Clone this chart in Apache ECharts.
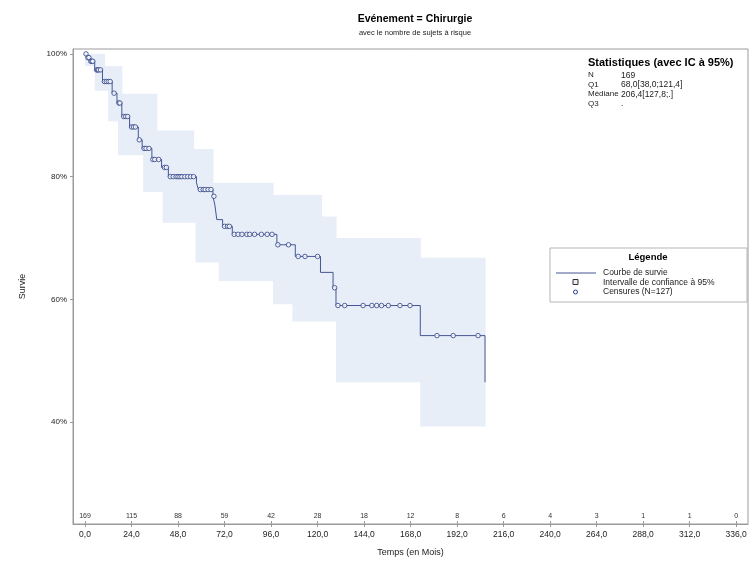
<!DOCTYPE html>
<html><head><meta charset="utf-8">
<script src="https://cdn.jsdelivr.net/npm/echarts@6/dist/echarts.min.js"></script>
<style>html,body{margin:0;padding:0;background:#fff}#c{width:752px;height:562px}</style>
</head><body><div id="c"></div>
<script>
// ---- data ----
const survTimes  = [0, 1, 2.5, 5, 9, 14, 16.5, 19, 23, 27.5, 29.5, 34.5, 39.5, 43, 57.5, 58.5, 66, 67, 68, 71, 76, 99, 108.5, 121.5, 128, 129.5, 173, 206.4];
const survValues = [100, 99.4, 98.8, 97.4, 95.5, 93.6, 92.0, 89.8, 88.1, 86.0, 84.6, 82.8, 81.5, 80.0, 79.0, 77.9, 76.8, 75.4, 73.0, 71.9, 70.6, 68.9, 67.0, 64.4, 61.9, 59.0, 54.1, 46.5];

const bandTimes = [0, 5, 10, 12, 17, 19, 30, 37, 40, 56, 57, 66, 69, 97, 107, 122, 129.5, 173, 206.4];
const bandLower = [98, 94, 94, 89, 83.5, 83.5, 77.5, 77.5, 72.5, 72.5, 66, 66, 63, 59.2, 56.4, 56.4, 46.5, 39.3, 39.3];
const bandUpper = [100, 100, 98, 98, 98, 93.5, 93.5, 87.5, 87.5, 84.5, 84.5, 79, 79, 77, 77, 73.5, 70, 66.8, 66.8];

const censorTimes = [0.5, 1.5, 2, 3, 3.5, 4, 6, 6.5, 7, 8, 10, 11, 12, 13, 15, 17.5, 18, 20, 21, 22, 24, 25, 26, 28, 30.5, 31.5, 33, 35, 36, 38, 41, 42,
  44, 45.5, 47, 48, 49, 50, 51.5, 53, 54.5, 56,
  59.5, 61, 62, 63.5, 65, 66.5, 72, 73.5, 74.5,
  77, 79, 81, 83.5, 85, 87.5, 91, 94, 96.5,
  99.5, 105, 110, 113.5, 120, 128.8,
  130.5, 134, 143.5, 148, 150.5, 153, 156.5, 162.5, 167.7,
  181.6, 190, 202.8];

const xTicks = [0, 24, 48, 72, 96, 120, 144, 168, 192, 216, 240, 264, 288, 312, 336];
const atRisk = ["169", "115", "88", "59", "42", "28", "18", "12", "8", "6", "4", "3", "1", "1", "0"];
const yTicks = [40, 60, 80, 100];

const statLabels = ["N", "Q1", "Médiane", "Q3"];
const statValues = ["169", "68,0[38,0;121,4]", "206,4[127,8;.]", "."];

// ---- helpers ----
function survAt(t) {
  let v = survValues[0];
  for (let i = 0; i < survTimes.length; i++) if (survTimes[i] <= t) v = survValues[i];
  return v;
}
const FONT = '"Liberation Sans", Arial, sans-serif';
const LINE = '#445694';
const BAND = '#e7eef8';
const AX = '#9a9a9a';

const bandData = [];
for (let i = 0; i < bandTimes.length - 1; i++) bandData.push([bandTimes[i], bandTimes[i + 1], bandLower[i], bandUpper[i]]);

const chart = echarts.init(document.getElementById('c'));

function txt(x, y, s, size, bold) {
  return { type: 'text', x: x, y: y, z: 100,
    style: { text: s, fontSize: size, fontWeight: bold ? 'bold' : 'normal', fontFamily: FONT, fill: bold ? '#000' : '#222' } };
}

const graphics = [txt(588, 57, 'Statistiques (avec IC à 95%)', 11, true)];
statLabels.forEach((l, i) => {
  graphics.push(txt(588, 71 + i * 9.5, l, 8, false));
  graphics.push(txt(621, 71 + i * 9.5, statValues[i], 8.5, false));
});
const LX = 550, LY = 248;
graphics.push(
  { type: 'rect', z: 99, shape: { x: LX, y: LY, width: 197, height: 54 }, style: { fill: '#fff', stroke: '#b5b5b5', lineWidth: 1 } },
  { type: 'text', z: 100, x: LX + 98, y: LY + 4, style: { text: 'Légende', fontSize: 9.5, fontWeight: 'bold', fontFamily: FONT, fill: '#000', align: 'center' } },
  { type: 'line', z: 100, shape: { x1: LX + 6, y1: LY + 25, x2: LX + 46, y2: LY + 25 }, style: { stroke: LINE, lineWidth: 1 } },
  txt(LX + 53, LY + 20.5, 'Courbe de survie', 8.5, false),
  { type: 'rect', z: 100, shape: { x: LX + 23, y: LY + 31.5, width: 5, height: 5 }, style: { fill: BAND, stroke: '#333', lineWidth: 1 } },
  txt(LX + 53, LY + 30, 'Intervalle de confiance à 95%', 8.5, false),
  { type: 'circle', z: 100, shape: { cx: LX + 25.5, cy: LY + 44, r: 2 }, style: { fill: '#fff', stroke: '#2b3f86', lineWidth: 1 } },
  txt(LX + 53, LY + 39.5, 'Censures (N=127)', 8.5, false)
);

const option = {
  animation: false,
  textStyle: { fontFamily: FONT },
  title: [
    { text: 'Evénement = Chirurgie', left: 410, top: 9, textAlign: 'center',
      textStyle: { fontSize: 10.5, fontWeight: 'bold', color: '#000', fontFamily: FONT } },
    { text: 'avec le nombre de sujets à risque', left: 410, top: 24, textAlign: 'center',
      textStyle: { fontSize: 7.5, fontWeight: 'normal', color: '#222', fontFamily: FONT } }
  ],
  grid: { left: 73, right: 4, top: 49, bottom: 37, show: true, borderColor: AX, borderWidth: 1, backgroundColor: 'transparent' },
  xAxis: [
    { type: 'value', min: -6.2, max: 342.1, position: 'bottom',
      name: 'Temps (en Mois)', nameLocation: 'middle', nameGap: 24,
      nameTextStyle: { fontSize: 9, color: '#222', fontFamily: FONT },
      axisLine: { show: true, onZero: false, lineStyle: { color: AX } },
      axisTick: { show: true, customValues: xTicks, length: 3, lineStyle: { color: AX } },
      axisLabel: { customValues: xTicks, formatter: v => v.toFixed(1).replace('.', ','), fontSize: 8.5, color: '#222', margin: 6 },
      splitLine: { show: false } },
    { type: 'value', min: -6.2, max: 342.1, position: 'bottom', z: 10,
      axisLine: { show: false, onZero: false },
      axisTick: { show: true, inside: true, customValues: xTicks, length: 3, lineStyle: { color: AX } },
      axisLabel: { inside: true, customValues: xTicks, formatter: v => atRisk[xTicks.indexOf(v)], fontSize: 7, color: '#333', margin: 4 },
      splitLine: { show: false } }
  ],
  yAxis: [
    { type: 'value', min: 23.4, max: 100.8,
      name: 'Survie', nameLocation: 'middle', nameGap: 46, nameRotate: 90,
      nameTextStyle: { fontSize: 9, color: '#222', fontFamily: FONT },
      axisLine: { show: true, onZero: false, lineStyle: { color: AX } },
      axisTick: { show: true, customValues: yTicks, length: 3, lineStyle: { color: AX } },
      axisLabel: { customValues: yTicks, formatter: v => v + '%', fontSize: 8, color: '#222', margin: 6 },
      splitLine: { show: false } }
  ],
  graphic: graphics,
  series: [
    { name: 'Intervalle de confiance à 95%', type: 'custom', silent: true, z: 1,
      renderItem: function (params, api) {
        const p0 = api.coord([api.value(0), api.value(3)]);
        const p1 = api.coord([api.value(1), api.value(2)]);
        return { type: 'rect', shape: { x: p0[0], y: p0[1], width: p1[0] - p0[0] + 0.6, height: p1[1] - p0[1] },
          style: { fill: BAND, stroke: null } };
      },
      encode: { x: [0, 1], y: [2, 3] },
      data: bandData },
    { name: 'Courbe de survie', type: 'line', step: 'end', symbol: 'none',
      lineStyle: { color: LINE, width: 1 },
      data: survTimes.map((t, i) => [t, survValues[i]]), z: 3 },
    { name: 'Censures (N=127)', type: 'scatter', symbol: 'circle', symbolSize: 4.5,
      itemStyle: { color: '#fff', borderColor: '#2b3f86', borderWidth: 1 },
      data: censorTimes.map(t => [t, survAt(t)]), z: 4 }
  ]
};
chart.setOption(option);
</script>
</body></html>
